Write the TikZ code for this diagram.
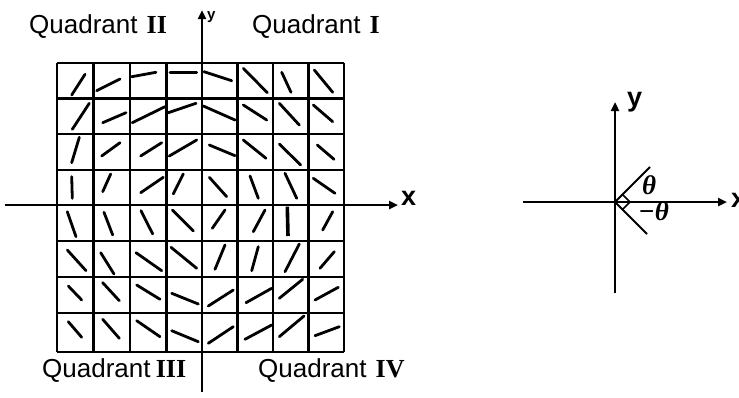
\documentclass[tikz,border=0pt]{standalone}
\usepackage{fontspec}
\setmainfont{Liberation Sans}
\newfontfamily\romanf{Liberation Serif}
\usetikzlibrary{arrows.meta}
\begin{document}
\begin{tikzpicture}[x=1pt,y=-1pt,
  gridline/.style={line width=2.1pt},
  axisline/.style={line width=2.4pt},
  seg/.style={line width=2.8pt, line cap=round},
  ray/.style={line width=1.9pt},
  quadlbl/.style={inner sep=0pt, anchor=base west, font=\fontsize{26}{26}\selectfont},
  axlbl/.style={inner sep=0pt, anchor=base west, font=\fontsize{27}{27}\selectfont\bfseries},
  smalllbl/.style={inner sep=0pt, anchor=base west, font=\fontsize{15}{15}\selectfont\bfseries},
  thlbl/.style={inner sep=0pt, font=\fontsize{27}{27}\selectfont\romanf\bfseries\itshape},
  tip/.style={-{Triangle[length=9pt,width=8pt]}}
]
\useasboundingbox (0,0) rectangle (739,397);

% ---------- left figure: grid ----------
\foreach \gx in {57,93.5,130,166.5,202,237.5,273,308.5,344}
  \draw[gridline] (\gx,63) -- (\gx,352);
\foreach \gy in {63,98.5,134,170,205,241,277,313,352}
  \draw[gridline] (57,\gy) -- (344,\gy);

% slope segments
\foreach \xa/\ya/\xb/\yb in {
  71.7/95/85/74.3, 96.7/90.7/120/79, 131.7/76.7/156/72.3, 170/72.3/196.7/72.3,
  204/71.7/231.7/80.7, 243.3/68.3/267.3/92.7, 281.7/72.3/291/92.3, 314.3/70/332.7/92.3,
  72.3/129.3/89.3/103.3, 102.7/122.7/126/112.7, 132.3/122.7/165/106.7, 168.3/112.7/196/103.3,
  203.3/106/235/120, 243.3/105/266.7/120, 279.3/103.3/299.3/125, 313.3/105/332.7/121.7,
  71.7/162.7/79.3/137.3, 101.7/156/120/142.7, 140.7/156/161.7/142.7, 169.3/156/196.7/140,
  209.3/145/235/155.7, 243.3/140/266/158.3, 279.3/144/300.7/165, 317.3/145/334/159.3,
  71.7/176.7/72.3/198.3, 102.7/191.7/110.7/174, 140.7/192.7/163.3/177.3, 173.3/194/183.3/174,
  209.3/177.3/226.7/196.7, 250/176/258.3/198.3, 285/173.3/296.7/198.3, 313.3/178.3/335/193.3,
  67.3/211.7/76/236.7, 104/212.3/112.7/235, 141/210.7/152.7/234, 172.3/210/193.3/231,
  212.3/228.3/225/210, 253.3/231.7/265/210, 322.7/230/332.7/211.7,
  67.3/250/86/270.7, 100.7/252.7/114/274, 136/252.7/161.7/270.7, 171/247.3/196.7/268.3,
  215/269.3/225/245, 251.7/270.7/258.3/246.7, 285/271.7/299.3/244, 320/268.3/334.3/251.7,
  68.3/286/81.7/300, 102.7/282.7/119.3/300.7, 136.7/285/160/299.3, 171.7/293.3/198.3/304,
  208.3/306/233.3/290, 246/302.7/271.7/288.3, 279.3/298.3/302.7/279.3, 315/300/338.3/287.3,
  68.3/321.7/81.7/337.3, 102.7/319.3/119.3/338.3, 136.7/320.7/160/336.7, 171.7/330.7/198.3/341.7,
  208.3/343.3/233.3/326.7, 245/339.3/271.7/325, 279.3/336.7/304/316, 315/335.7/339.3/326.7}
  \draw[seg] (\xa,\ya) -- (\xb,\yb);
\draw[seg, line width=3.6pt, line cap=butt] (287.3,206.7) -- (288,236);

% axes
\coordinate (ly0) at (202,392);
\coordinate (ly1) at (202,10);
\coordinate (lx0) at (5,205);
\coordinate (lx1) at (398,205);
\draw[axisline, tip] (ly0) -- (ly1);
\draw[axisline, tip] (lx0) -- (lx1);
\node[smalllbl] (ylab) at (207,19) {y};
\node[axlbl] (xlab) at (401,205) {x};

% quadrant labels
\node[quadlbl] (q2) at (29,33) {Quadrant\hspace{0.35em}{\romanf\bfseries II}};
\node[quadlbl] (q1) at (252,33) {Quadrant\hspace{0.35em}{\romanf\bfseries I}};
\node[quadlbl] (q3) at (42,377) {Quadrant\hspace{0.2em}{\romanf\bfseries III}};
\node[quadlbl] (q4) at (258,377) {Quadrant\hspace{0.35em}{\romanf\bfseries IV}};

% ---------- right figure ----------
\coordinate (o) at (615,202);
\coordinate (ry0) at (615,293);
\coordinate (ry1) at (615,102);
\coordinate (rx0) at (523,202);
\coordinate (rx1) at (727,202);
\draw[axisline, tip] (ry0) -- (ry1);
\draw[axisline, tip] (rx0) -- (rx1);
\coordinate (up) at (650,167);
\coordinate (dn) at (647,234);
\draw[ray] (o) -- (up);
\draw[ray] (o) -- (dn);
\coordinate (m1) at (622.5,194.5);
\coordinate (m2) at (630,202);
\coordinate (m3) at (622.5,209.5);
\draw[ray, line width=1.6pt] (m1) -- (m2) -- (m3);
\node[axlbl] (rylab) at (627,106) {y};
\node[axlbl] (rxlab) at (731,207) {x};
\node[thlbl] (th1) at (649,185) {θ};
\node[thlbl, anchor=east] (th2) at (669,211) {−θ};
\end{tikzpicture}
\end{document}
